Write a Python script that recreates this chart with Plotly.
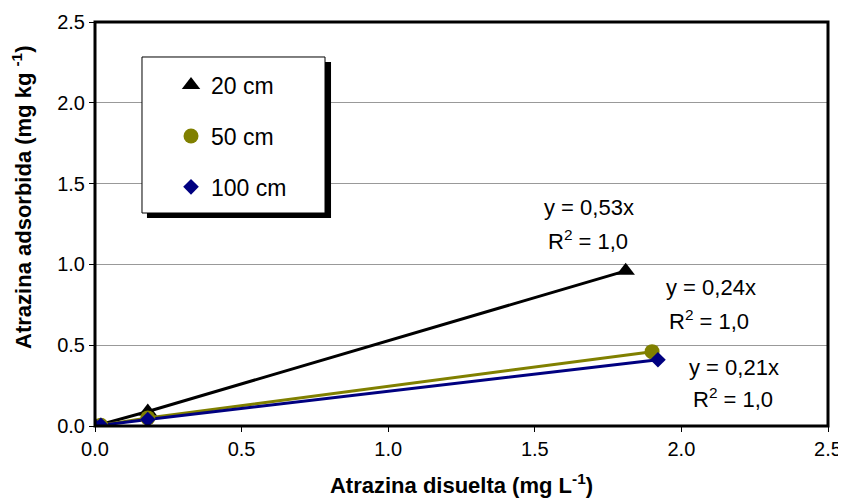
import plotly.graph_objects as go

# Data
x_20 = [0.0, 0.18, 1.81]
y_20 = [0.0, 0.09, 0.96]
x_50 = [0.0, 0.02, 0.18, 1.90]
y_50 = [0.0, 0.005, 0.05, 0.46]
x_100 = [0.0, 0.02, 0.18, 1.92]
y_100 = [0.0, 0.004, 0.04, 0.41]
series_names = ["20 cm", "50 cm", "100 cm"]
eq_texts = ["y = 0,53x", "y = 0,24x", "y = 0,21x"]
r2_texts = ["R<sup>2</sup> = 1,0", "R<sup>2</sup> = 1,0", "R<sup>2</sup> = 1,0"]
tick_vals = [0.0, 0.5, 1.0, 1.5, 2.0, 2.5]

FONT = "Liberation Sans, Arial, sans-serif"
colors = ["#000000", "#808000", "#000080"]
symbols = ["triangle-up", "circle", "diamond"]
msizes = [16, 15, 12]
xs = [x_20, x_50, x_100]
ys = [y_20, y_50, y_100]

fig = go.Figure()
for i in range(3):
    fig.add_trace(go.Scatter(x=xs[i], y=ys[i], mode="lines",
                             line=dict(color=colors[i], width=3),
                             showlegend=False, hoverinfo="skip"))
for i in range(3):
    fig.add_trace(go.Scatter(x=xs[i], y=ys[i], mode="markers", name=series_names[i],
                             legendgroup=series_names[i],
                             marker=dict(symbol=symbols[i], size=msizes[i], color=colors[i],
                                         line=dict(width=0))))

# equation labels
eq_pos = [(1.685, 1.355), (2.10, 0.86), (2.18, 0.365)]
r2_pos = [(1.68, 1.151), (2.094, 0.656), (2.176, 0.173)]
annotations = []
for i in range(3):
    annotations.append(dict(x=eq_pos[i][0], y=eq_pos[i][1], xref="x", yref="y",
                            text=eq_texts[i], showarrow=False,
                            font=dict(family=FONT, size=22, color="black")))
    annotations.append(dict(x=r2_pos[i][0], y=r2_pos[i][1], xref="x", yref="y",
                            text=r2_texts[i], showarrow=False,
                            font=dict(family=FONT, size=22, color="black")))
annotations.append(dict(x=-0.0996, y=0.567, xref="paper", yref="paper",
                        xanchor="center", yanchor="middle",
                        text="<b>Atrazina adsorbida (mg kg <sup>-1</sup>)</b>",
                        textangle=-90, showarrow=False,
                        font=dict(family=FONT, size=22, color="black")))

shapes = [
    # legend shadow
    dict(type="rect", xref="paper", yref="paper", x0=0.0709, x1=0.322, y0=0.5149, y1=0.901,
         fillcolor="black", line=dict(width=0), layer="above"),
    # legend box
    dict(type="rect", xref="paper", yref="paper", x0=0.0641, x1=0.3138, y0=0.5272, y1=0.9134,
         fillcolor="white", line=dict(color="black", width=1), layer="above"),
    # plot border
    dict(type="rect", xref="paper", yref="paper", x0=0, x1=1, y0=0, y1=1,
         line=dict(color="black", width=3), layer="above"),
]

fig.update_layout(
    width=838, height=493,
    margin=dict(l=87, r=18, t=14, b=75),
    paper_bgcolor="white", plot_bgcolor="white",
    font=dict(family=FONT, color="black"),
    showlegend=True,
    legend=dict(x=0.1037, y=0.897, xanchor="left", yanchor="top",
                bgcolor="rgba(0,0,0,0)", borderwidth=0,
                font=dict(family=FONT, size=23, color="black"),
                tracegroupgap=18, itemsizing="trace"),
    annotations=annotations,
    shapes=shapes,
    xaxis=dict(range=[0, 2.5], tickvals=tick_vals, tickformat=".1f",
               showgrid=False, zeroline=False, ticks="outside", ticklen=5,
               tickcolor="black", tickfont=dict(family=FONT, size=20, color="black"),
               title=dict(text="<b>Atrazina disuelta (mg L<sup>-1</sup>)</b>",
                          font=dict(family=FONT, size=22, color="black"), standoff=18),
               automargin=False, showline=False),
    yaxis=dict(range=[0, 2.5], tickvals=tick_vals, tickformat=".1f",
               showgrid=True, gridcolor="#999999", gridwidth=1, zeroline=False,
               ticks="outside", ticklen=5, tickcolor="black",
               tickfont=dict(family=FONT, size=20, color="black"),
               automargin=False, showline=False),
)

fig.write_html("out.html")
